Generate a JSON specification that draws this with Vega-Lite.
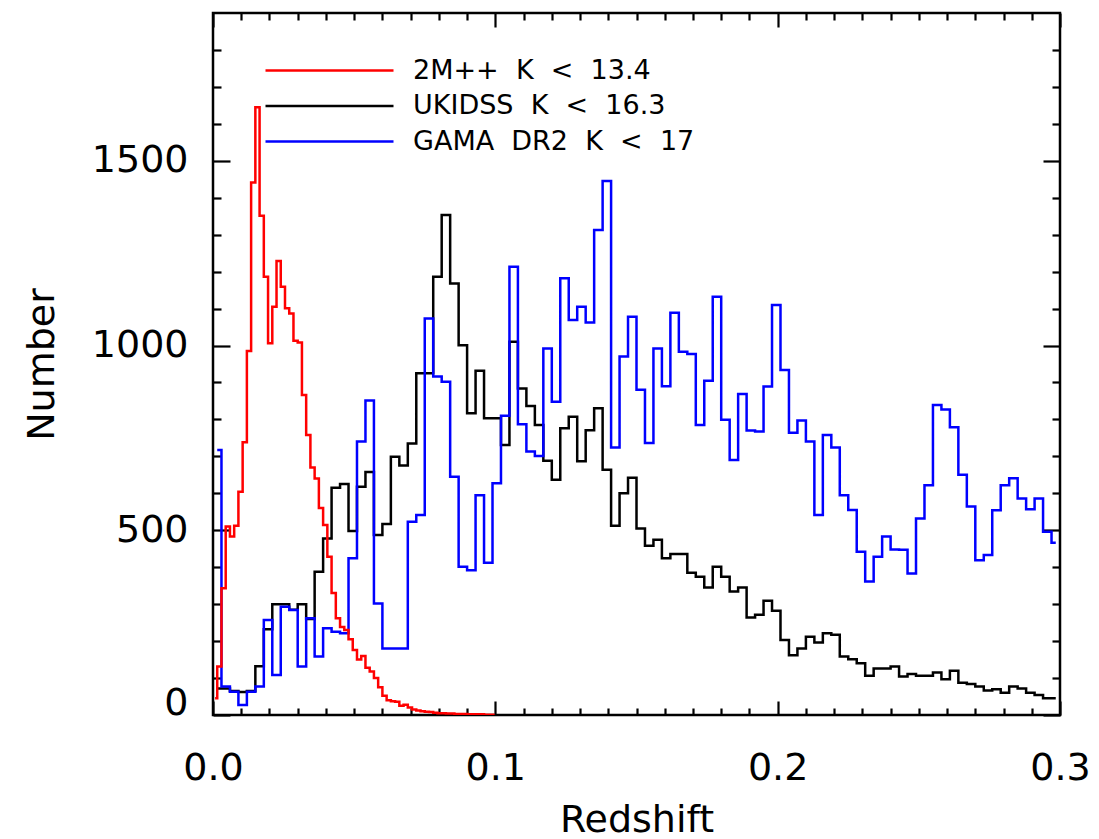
{
  "$schema": "https://vega.github.io/schema/vega-lite/v6.json",
  "width": 847,
  "height": 702,
  "autosize": "none",
  "padding": {"left": 213, "top": 13, "right": 39, "bottom": 124},
  "background": "white",
  "datasets": {
    "twomass": [
      {"z":0.00075,"n":45},{"z":0.00225,"n":131},{"z":0.00375,"n":343},{"z":0.00525,"n":510},{"z":0.00675,"n":483},
      {"z":0.00825,"n":512},{"z":0.00975,"n":604},{"z":0.01125,"n":738},{"z":0.01275,"n":985},{"z":0.01425,"n":1441},
      {"z":0.01575,"n":1645},{"z":0.01725,"n":1351},{"z":0.01875,"n":1186},{"z":0.02025,"n":1006},{"z":0.02175,"n":1105},
      {"z":0.02325,"n":1229},{"z":0.02475,"n":1159},{"z":0.02625,"n":1101},{"z":0.02775,"n":1087},{"z":0.02925,"n":1013},
      {"z":0.03075,"n":1008},{"z":0.03225,"n":866},{"z":0.03375,"n":758},{"z":0.03525,"n":670},{"z":0.03675,"n":640},
      {"z":0.03825,"n":560},{"z":0.03975,"n":514},{"z":0.04125,"n":428},{"z":0.04275,"n":330},{"z":0.04425,"n":262},
      {"z":0.04575,"n":238},{"z":0.04725,"n":230},{"z":0.04875,"n":205},{"z":0.05025,"n":176},{"z":0.05175,"n":150},
      {"z":0.05325,"n":160},{"z":0.05475,"n":128},{"z":0.05625,"n":118},{"z":0.05775,"n":100},{"z":0.05925,"n":75},
      {"z":0.06075,"n":52},{"z":0.06225,"n":40},{"z":0.06375,"n":37},{"z":0.06525,"n":36},{"z":0.06675,"n":25},
      {"z":0.06825,"n":28},{"z":0.06975,"n":20},{"z":0.07125,"n":15},{"z":0.07275,"n":12},{"z":0.07425,"n":10},
      {"z":0.07575,"n":9},{"z":0.07725,"n":8},{"z":0.07875,"n":6},{"z":0.08025,"n":5},{"z":0.08175,"n":5},
      {"z":0.08325,"n":4},{"z":0.08475,"n":4},{"z":0.08625,"n":3},{"z":0.08775,"n":3},{"z":0.08925,"n":3},
      {"z":0.09075,"n":2},{"z":0.09225,"n":2},{"z":0.09375,"n":2},{"z":0.09525,"n":2},{"z":0.09675,"n":1},
      {"z":0.09825,"n":1},{"z":0.09975,"n":1}
    ],
    "ukidss": [
      {"z":0.0015,"n":72},{"z":0.0045,"n":72},{"z":0.0075,"n":65},{"z":0.0105,"n":62},{"z":0.0135,"n":65},
      {"z":0.0165,"n":132},{"z":0.0195,"n":232},{"z":0.0225,"n":300},{"z":0.0255,"n":300},{"z":0.0285,"n":285},
      {"z":0.0315,"n":300},{"z":0.0345,"n":260},{"z":0.0375,"n":388},{"z":0.0405,"n":478},{"z":0.0435,"n":615},
      {"z":0.0465,"n":625},{"z":0.0495,"n":498},{"z":0.0525,"n":618},{"z":0.0555,"n":658},{"z":0.0585,"n":487},
      {"z":0.0615,"n":517},{"z":0.0645,"n":699},{"z":0.0675,"n":675},{"z":0.0705,"n":735},{"z":0.0735,"n":925},
      {"z":0.0765,"n":925},{"z":0.0795,"n":1186},{"z":0.0825,"n":1353},{"z":0.0855,"n":1168},{"z":0.0885,"n":1001},
      {"z":0.0915,"n":817},{"z":0.0945,"n":932},{"z":0.0975,"n":803},{"z":0.1005,"n":803},{"z":0.1035,"n":731},
      {"z":0.1065,"n":1010},{"z":0.1095,"n":884},{"z":0.1125,"n":836},{"z":0.1155,"n":785},{"z":0.1185,"n":688},
      {"z":0.1215,"n":637},{"z":0.1245,"n":776},{"z":0.1275,"n":807},{"z":0.1305,"n":687},{"z":0.1335,"n":771},
      {"z":0.1365,"n":830},{"z":0.1395,"n":664},{"z":0.1425,"n":512},{"z":0.1455,"n":600},{"z":0.1485,"n":642},
      {"z":0.1515,"n":505},{"z":0.1545,"n":458},{"z":0.1575,"n":474},{"z":0.1605,"n":424},{"z":0.1635,"n":436},
      {"z":0.1665,"n":436},{"z":0.1695,"n":385},{"z":0.1725,"n":374},{"z":0.1755,"n":345},{"z":0.1785,"n":401},
      {"z":0.1815,"n":374},{"z":0.1845,"n":334},{"z":0.1875,"n":345},{"z":0.1905,"n":264},{"z":0.1935,"n":271},
      {"z":0.1965,"n":309},{"z":0.1995,"n":282},{"z":0.2025,"n":203},{"z":0.2055,"n":162},{"z":0.2085,"n":180},
      {"z":0.2115,"n":212},{"z":0.2145,"n":196},{"z":0.2175,"n":221},{"z":0.2205,"n":217},{"z":0.2235,"n":158},
      {"z":0.2265,"n":151},{"z":0.2295,"n":140},{"z":0.2325,"n":106},{"z":0.2355,"n":126},{"z":0.2385,"n":126},
      {"z":0.2415,"n":131},{"z":0.2445,"n":104},{"z":0.2475,"n":111},{"z":0.2505,"n":106},{"z":0.2535,"n":106},
      {"z":0.2565,"n":115},{"z":0.2595,"n":97},{"z":0.2625,"n":120},{"z":0.2655,"n":87},{"z":0.2685,"n":84},
      {"z":0.2715,"n":77},{"z":0.2745,"n":66},{"z":0.2775,"n":70},{"z":0.2805,"n":60},{"z":0.2835,"n":77},
      {"z":0.2865,"n":72},{"z":0.2895,"n":60},{"z":0.2925,"n":54},{"z":0.2955,"n":45},{"z":0.2985,"n":45}
    ],
    "gama": [
      {"z":0.0015,"n":717},{"z":0.0045,"n":77},{"z":0.0075,"n":63},{"z":0.0105,"n":27},{"z":0.0135,"n":63},
      {"z":0.0165,"n":77},{"z":0.0195,"n":257},{"z":0.0225,"n":108},{"z":0.0255,"n":293},{"z":0.0285,"n":284},
      {"z":0.0315,"n":131},{"z":0.0345,"n":262},{"z":0.0375,"n":158},{"z":0.0405,"n":235},{"z":0.0435,"n":225},
      {"z":0.0465,"n":221},{"z":0.0495,"n":424},{"z":0.0525,"n":740},{"z":0.0555,"n":851},{"z":0.0585,"n":302},
      {"z":0.0615,"n":180},{"z":0.0645,"n":180},{"z":0.0675,"n":180},{"z":0.0705,"n":523},{"z":0.0735,"n":541},
      {"z":0.0765,"n":1073},{"z":0.0795,"n":916},{"z":0.0825,"n":902},{"z":0.0855,"n":645},{"z":0.0885,"n":401},
      {"z":0.0915,"n":392},{"z":0.0945,"n":595},{"z":0.0975,"n":412},{"z":0.1005,"n":627},{"z":0.1035,"n":810},
      {"z":0.1065,"n":1213},{"z":0.1095,"n":787},{"z":0.1125,"n":713},{"z":0.1155,"n":701},{"z":0.1185,"n":992},
      {"z":0.1215,"n":848},{"z":0.1245,"n":1182},{"z":0.1275,"n":1069},{"z":0.1305,"n":1105},{"z":0.1335,"n":1062},
      {"z":0.1365,"n":1313},{"z":0.1395,"n":1445},{"z":0.1425,"n":724},{"z":0.1455,"n":970},{"z":0.1485,"n":1078},
      {"z":0.1515,"n":880},{"z":0.1545,"n":736},{"z":0.1575,"n":992},{"z":0.1605,"n":890},{"z":0.1635,"n":1089},
      {"z":0.1665,"n":983},{"z":0.1695,"n":977},{"z":0.1725,"n":785},{"z":0.1755,"n":905},{"z":0.1785,"n":1132},
      {"z":0.1815,"n":799},{"z":0.1845,"n":690},{"z":0.1875,"n":869},{"z":0.1905,"n":770},{"z":0.1935,"n":767},
      {"z":0.1965,"n":889},{"z":0.1995,"n":1110},{"z":0.2025,"n":934},{"z":0.2055,"n":764},{"z":0.2085,"n":797},
      {"z":0.2115,"n":740},{"z":0.2145,"n":541},{"z":0.2175,"n":758},{"z":0.2205,"n":724},{"z":0.2235,"n":595},
      {"z":0.2265,"n":555},{"z":0.2295,"n":442},{"z":0.2325,"n":361},{"z":0.2355,"n":428},{"z":0.2385,"n":483},
      {"z":0.2415,"n":448},{"z":0.2445,"n":447},{"z":0.2475,"n":383},{"z":0.2505,"n":532},{"z":0.2535,"n":622},
      {"z":0.2565,"n":839},{"z":0.2595,"n":827},{"z":0.2625,"n":779},{"z":0.2655,"n":650},{"z":0.2685,"n":564},
      {"z":0.2715,"n":419},{"z":0.2745,"n":433},{"z":0.2775,"n":554},{"z":0.2805,"n":622},{"z":0.2835,"n":641},
      {"z":0.2865,"n":586},{"z":0.2895,"n":557},{"z":0.2925,"n":586},{"z":0.2955,"n":496},{"z":0.2985,"n":466}
    ]
  },
  "config": {
    "view": {"stroke": "black", "strokeWidth": 2.5},
    "axis": {
      "domain": false, "grid": false,
      "labelFont": "DejaVu Sans", "labelFontSize": 38, "labelColor": "black",
      "titleFont": "DejaVu Sans", "titleFontSize": 38, "titleFontWeight": "normal", "titleColor": "black",
      "tickColor": "black", "tickWidth": 2.2, "labelFlush": false, "labelOverlap": false
    }
  },
  "layer": [
    {
      "data": {"name": "ukidss"},
      "mark": {"type": "line", "interpolate": "step", "strokeWidth": 2.5, "clip": true},
      "encoding": {
        "x": {
          "field": "z", "type": "quantitative",
          "scale": {"domain": [0, 0.3], "nice": false, "zero": false},
          "axis": {
            "orient": "bottom",
            "values": [0,0.01,0.02,0.03,0.04,0.05,0.06,0.07,0.08,0.09,0.1,0.11,0.12,0.13,0.14,0.15,0.16,0.17,0.18,0.19,0.2,0.21,0.22,0.23,0.24,0.25,0.26,0.27,0.28,0.29,0.3],
            "labelExpr": "abs(datum.value*10 - round(datum.value*10)) < 0.001 ? format(datum.value, '.1f') : ''",
            "tickSize": {"condition": {"test": "abs(datum.value*10 - round(datum.value*10)) < 0.001", "value": -14}, "value": -7},
            "labelPadding": 48,
            "title": "Redshift",
            "titlePadding": 7
          }
        },
        "y": {
          "field": "n", "type": "quantitative",
          "scale": {"domain": [0, 1900], "nice": false, "zero": true},
          "axis": {
            "orient": "left",
            "values": [0,100,200,300,400,500,600,700,800,900,1000,1100,1200,1300,1400,1500,1600,1700,1800],
            "labelExpr": "datum.value % 500 === 0 ? format(datum.value, 'd') : ''",
            "tickSize": {"condition": {"test": "datum.value % 500 === 0", "value": -17}, "value": -8},
            "labelOffset": {"condition": {"test": "datum.value === 0", "value": -12}, "value": 0},
            "labelPadding": 42,
            "title": "Number",
            "titlePadding": 30
          }
        },
        "color": {
          "datum": "UKIDSS\u00a0\u00a0K\u00a0\u00a0<\u00a0\u00a016.3", "type": "nominal",
          "scale": {"domain": ["2M++\u00a0\u00a0K\u00a0\u00a0<\u00a0\u00a013.4", "UKIDSS\u00a0\u00a0K\u00a0\u00a0<\u00a0\u00a016.3", "GAMA\u00a0\u00a0DR2\u00a0\u00a0K\u00a0\u00a0<\u00a0\u00a017"], "range": ["#ff0000", "#000000", "#0000ff"]},
          "legend": {
            "orient": "none", "legendX": 39, "legendY": 44, "title": null,
            "symbolType": "M0,0H16", "symbolSize": 256, "symbolStrokeWidth": 2.5,
            "labelFont": "DejaVu Sans", "labelFontSize": 27, "labelColor": "black", "labelLimit": 500,
            "labelOffset": 134, "rowPadding": 7.5, "padding": 0
          }
        }
      }
    },
    {
      "data": {"name": "gama"},
      "mark": {"type": "line", "interpolate": "step", "strokeWidth": 2.5, "clip": true},
      "encoding": {
        "x": {"field": "z", "type": "quantitative", "axis": null},
        "y": {"field": "n", "type": "quantitative", "axis": null},
        "color": {"datum": "GAMA\u00a0\u00a0DR2\u00a0\u00a0K\u00a0\u00a0<\u00a0\u00a017", "type": "nominal"}
      }
    },
    {
      "data": {"name": "twomass"},
      "mark": {"type": "line", "interpolate": "step", "strokeWidth": 2.5, "clip": true},
      "encoding": {
        "x": {"field": "z", "type": "quantitative", "axis": null},
        "y": {"field": "n", "type": "quantitative", "axis": null},
        "color": {"datum": "2M++\u00a0\u00a0K\u00a0\u00a0<\u00a0\u00a013.4", "type": "nominal"}
      }
    },
    {
      "data": {"name": "ukidss"},
      "mark": {"type": "point", "opacity": 0},
      "encoding": {
        "x": {
          "field": "z", "type": "quantitative",
          "axis": {
            "orient": "top", "labels": false, "title": null,
            "values": [0,0.01,0.02,0.03,0.04,0.05,0.06,0.07,0.08,0.09,0.1,0.11,0.12,0.13,0.14,0.15,0.16,0.17,0.18,0.19,0.2,0.21,0.22,0.23,0.24,0.25,0.26,0.27,0.28,0.29,0.3],
            "tickSize": {"condition": {"test": "abs(datum.value*10 - round(datum.value*10)) < 0.001", "value": -14}, "value": -7}
          }
        },
        "y": {
          "field": "n", "type": "quantitative",
          "axis": {
            "orient": "right", "labels": false, "title": null,
            "values": [0,100,200,300,400,500,600,700,800,900,1000,1100,1200,1300,1400,1500,1600,1700,1800],
            "tickSize": {"condition": {"test": "datum.value % 500 === 0", "value": -17}, "value": -8}
          }
        }
      }
    }
  ],
  "resolve": {"axis": {"x": "independent", "y": "independent"}}
}
